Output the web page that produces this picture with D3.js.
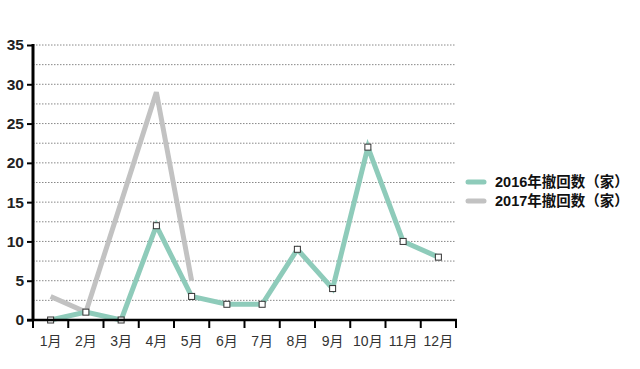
<!DOCTYPE html>
<html><head><meta charset="utf-8">
<script src="https://cdn.jsdelivr.net/npm/d3@7"></script>
<style>body{margin:0;background:#fff;}svg{display:block;}</style>
</head><body>
<svg id="c" width="640" height="369"></svg>
<script>
const months = ["1月","2月","3月","4月","5月","6月","7月","8月","9月","10月","11月","12月"];
const values2016 = [0,1,0,12,3,2,2,9,4,22,10,8];
const values2017 = [3,1,15,29,5];
const yTicks = [0,5,10,15,20,25,30,35];
const gridValues = [2.5,5,7.5,10,12.5,15,17.5,20,22.5,25,27.5,30,32.5,35];
const seriesNames = ["2016年撤回数（家）","2017年撤回数（家）"];
const colors = ["#8ecbba","#c2c2c2"];

(function(){
const svg = d3.select("#c");
const mLeft = 33, mRight = 456, mTop = 45, mBottom = 320;
const x = d3.scaleBand().domain(months).range([mLeft, mRight]);
const y = d3.scaleLinear().domain([0,35]).range([mBottom, mTop]);
const cx = m => x(m) + x.bandwidth()/2;

// grid
svg.append("g").selectAll("line").data(gridValues).join("line")
  .attr("x1", mLeft).attr("x2", mRight)
  .attr("y1", d => y(d)).attr("y2", d => y(d))
  .attr("stroke", "#888").attr("stroke-width", 1)
  .attr("stroke-dasharray", "1.5,1.5");

const line = d3.line().x((d,i) => cx(months[i])).y(d => y(d));

svg.append("path").datum(values2017).attr("d", line)
  .attr("fill","none").attr("stroke", colors[1]).attr("stroke-width", 5)
  .attr("stroke-linejoin","miter");
svg.append("path").datum(values2016).attr("d", line)
  .attr("fill","none").attr("stroke", colors[0]).attr("stroke-width", 5)
  .attr("stroke-linejoin","miter");

svg.append("g").selectAll("rect").data(values2016).join("rect")
  .attr("x", (d,i) => cx(months[i]) - 3).attr("y", d => y(d) - 3)
  .attr("width", 6).attr("height", 6)
  .attr("fill", "#fff").attr("stroke", "#333").attr("stroke-width", 1);

// axes
const yAxis = svg.append("g").attr("transform", `translate(${mLeft},0)`)
  .call(d3.axisLeft(y).tickValues(yTicks).tickSize(6).tickPadding(3));
yAxis.select(".domain").attr("stroke","#000").attr("stroke-width",3)
  .attr("d", `M0,${mTop-1}V${mBottom+1}`);
yAxis.selectAll(".tick line").attr("stroke","#000").attr("stroke-width",2);
yAxis.selectAll("text").attr("font-family","Liberation Sans, Arial, sans-serif")
  .attr("font-size", 15.5).attr("font-weight","bold").attr("fill","#222");

const xAxis = svg.append("g").attr("transform", `translate(0,${mBottom})`);
xAxis.append("line").attr("x1", mLeft-6).attr("x2", mRight+1)
  .attr("stroke","#000").attr("stroke-width",2.5);
const edges = months.map(m => x(m)).concat([mRight]);
xAxis.selectAll("line.t").data(edges).join("line").attr("class","t")
  .attr("x1", d => d).attr("x2", d => d).attr("y1", 0).attr("y2", 8)
  .attr("stroke","#000").attr("stroke-width",2);
xAxis.selectAll("text").data(months).join("text")
  .attr("x", d => cx(d)).attr("y", 26).attr("text-anchor","middle")
  .attr("font-family","Liberation Sans, 'Noto Sans CJK SC', sans-serif")
  .attr("font-size", 14).attr("fill","#333").text(d => d);

// legend
const lg = svg.append("g");
seriesNames.forEach((n,i) => {
  const yy = 182 + i*19;
  lg.append("line").attr("x1", 468).attr("x2", 484).attr("y1", yy).attr("y2", yy)
    .attr("stroke", colors[i]).attr("stroke-width", 5).attr("stroke-linecap","round");
  lg.append("text").attr("x", 495).attr("y", yy+5)
    .attr("font-family","Liberation Sans, 'Noto Sans CJK SC', sans-serif")
    .attr("font-size", 14.5).attr("font-weight","bold").attr("fill","#111").text(n);
});
})();
</script>
</body></html>
